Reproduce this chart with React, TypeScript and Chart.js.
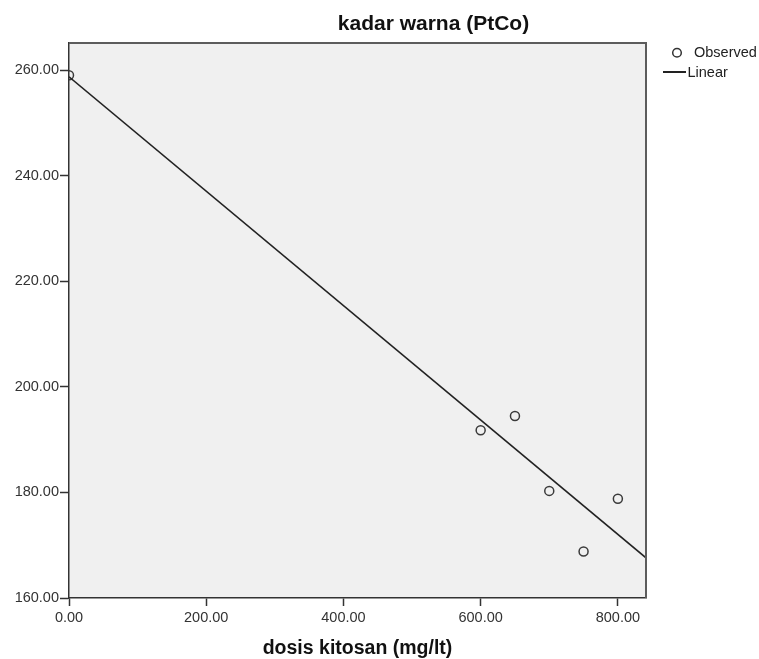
import React, { useEffect, useRef } from "react";
import { Chart, registerables } from "chart.js";

Chart.register(...registerables);

// ---- data ----
const doseX = [0, 600, 650, 700, 750, 800];
const colourY = [259.1, 191.8, 194.5, 180.3, 168.8, 178.8];
const fitX = [0, 841];
const fitY = [258.8, 167.6];
const xTicks = [0, 200, 400, 600, 800];
const yTicks = [160, 180, 200, 220, 240, 260];
const xMin = 0;
const xMax = 841;
const yMin = 160;
const yMax = 265.2;
const titleText = "kadar warna (PtCo)";
const xTitleText = "dosis kitosan (mg/lt)";
const legendLabels = ["Observed", "Linear"];

const FONT = "'Liberation Sans', Arial, sans-serif";

const decorPlugin = {
  id: "decor",
  beforeDraw(chart: any) {
    const { ctx, chartArea } = chart;
    ctx.save();
    ctx.fillStyle = "#f0f0f0";
    ctx.fillRect(chartArea.left, chartArea.top, chartArea.right - chartArea.left, chartArea.bottom - chartArea.top);
    ctx.restore();
  },
  afterDraw(chart: any) {
    const { ctx, chartArea } = chart;
    ctx.save();
    // top and right frame
    ctx.strokeStyle = "#5c5c5c";
    ctx.lineWidth = 2;
    ctx.beginPath();
    ctx.moveTo(chartArea.left, chartArea.top);
    ctx.lineTo(chartArea.right, chartArea.top);
    ctx.lineTo(chartArea.right, chartArea.bottom);
    ctx.stroke();

    // title
    ctx.fillStyle = "#111";
    ctx.font = `bold 21px ${FONT}`;
    ctx.textAlign = "center";
    ctx.textBaseline = "alphabetic";
    ctx.fillText(titleText, 433.5, 30);

    // x axis title
    ctx.font = `bold 19.5px ${FONT}`;
    ctx.fillText(xTitleText, (chartArea.left + chartArea.right) / 2, 654);

    // legend
    const lx = chartArea.right + 31;
    ctx.strokeStyle = "#333";
    ctx.lineWidth = 1.5;
    ctx.beginPath();
    ctx.arc(lx, 52.7, 4.3, 0, Math.PI * 2);
    ctx.stroke();
    ctx.strokeStyle = "#222";
    ctx.lineWidth = 2;
    ctx.beginPath();
    ctx.moveTo(chartArea.right + 17, 72);
    ctx.lineTo(chartArea.right + 40, 72);
    ctx.stroke();
    ctx.fillStyle = "#222";
    ctx.font = `14.5px ${FONT}`;
    ctx.textAlign = "left";
    ctx.textBaseline = "middle";
    ctx.fillText(legendLabels[0], chartArea.right + 48, 53);
    ctx.fillText(legendLabels[1], chartArea.right + 41.5, 72.5);
    ctx.restore();
  },
};

export default function App() {
  const ref = useRef<HTMLCanvasElement | null>(null);

  useEffect(() => {
    if (!ref.current) return;
    const observed = doseX.map((x, i) => ({ x, y: colourY[i] }));
    const linear = fitX.map((x, i) => ({ x, y: fitY[i] }));
    const tickFont = { family: FONT, size: 14.5 };
    const chart = new Chart(ref.current, {
      type: "scatter",
      data: {
        datasets: [
          {
            type: "line",
            label: legendLabels[1],
            data: linear,
            borderColor: "#222",
            borderWidth: 1.6,
            pointRadius: 0,
            fill: false,
            clip: 0,
          } as any,
          {
            type: "scatter",
            label: legendLabels[0],
            data: observed,
            pointStyle: "circle",
            pointRadius: 4.5,
            borderColor: "#3a3a3a",
            borderWidth: 1.5,
            backgroundColor: "rgba(0,0,0,0)",
            clip: 0,
          } as any,
        ],
      },
      options: {
        animation: false,
        responsive: false,
        maintainAspectRatio: false,
        layout: { padding: { top: 43, right: 113, bottom: 0, left: 0 } },
        plugins: {
          legend: { display: false },
          title: { display: false },
          tooltip: { enabled: false },
        },
        scales: {
          x: {
            type: "linear",
            min: xMin,
            max: xMax,
            afterBuildTicks: (s: any) => {
              s.ticks = xTicks.map((v) => ({ value: v }));
            },
            afterFit: (s: any) => {
              s.height = 61;
            },
            ticks: {
              callback: (v: any) => Number(v).toFixed(2),
              font: tickFont,
              color: "#333",
              padding: 3.5,
              maxRotation: 0,
              autoSkip: false,
            },
            grid: {
              drawOnChartArea: false,
              tickLength: 8,
              color: "#333",
              tickWidth: 1.5,
            },
            border: { color: "#333", width: 1.5 },
          },
          y: {
            type: "linear",
            min: yMin,
            max: yMax,
            afterBuildTicks: (s: any) => {
              s.ticks = yTicks.map((v) => ({ value: v }));
            },
            afterFit: (s: any) => {
              s.width = 69;
            },
            ticks: {
              callback: (v: any) => Number(v).toFixed(2),
              font: tickFont,
              color: "#333",
              padding: 1,
              autoSkip: false,
            },
            grid: {
              drawOnChartArea: false,
              tickLength: 9,
              color: "#333",
              tickWidth: 1.5,
            },
            border: { color: "#333", width: 1.5 },
          },
        },
      } as any,
      plugins: [decorPlugin],
    });
    return () => chart.destroy();
  }, []);

  return (
    <div style={{ position: "absolute", left: 0, top: 0, width: 759, height: 659, background: "#fff" }}>
      <canvas ref={ref} width={759} height={659} style={{ display: "block", width: 759, height: 659 }} />
    </div>
  );
}
